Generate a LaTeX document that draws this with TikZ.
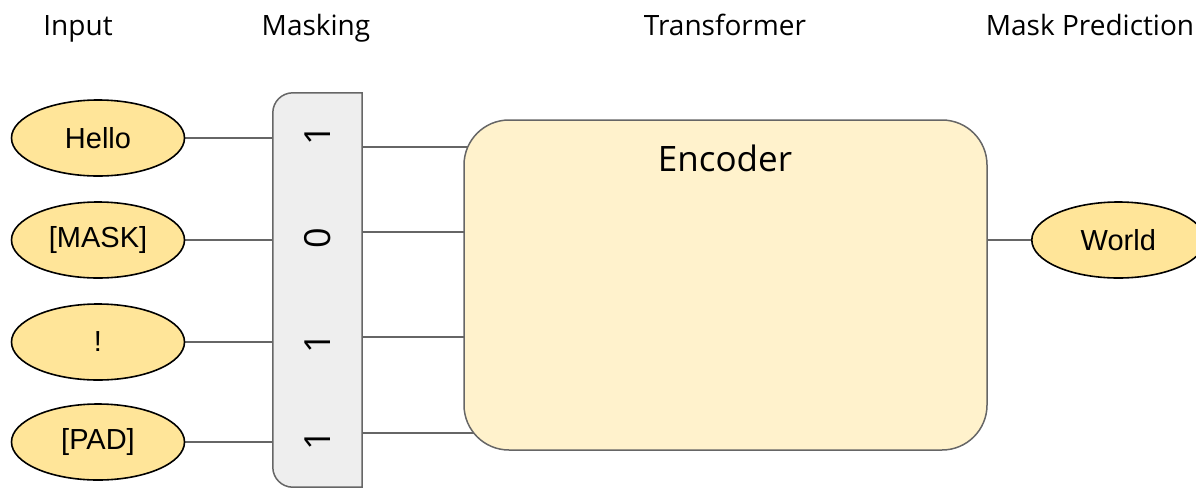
\documentclass[tikz,border=0pt]{standalone}
\usepackage{fontspec}
\setmainfont{Liberation Sans}
\newfontfamily\headfont{Open Sans}
\usepackage{tikz}
\usetikzlibrary{backgrounds, positioning, shapes.geometric}
\definecolor{tokfill}{HTML}{FFE599}
\definecolor{encfill}{HTML}{FFF2CC}
\definecolor{barfill}{HTML}{EEEEEE}
\definecolor{edgegray}{HTML}{666666}

\begin{document}
\begin{tikzpicture}[x=1pt, y=-1pt,
            token/.style={ellipse, draw=black, line width=1.6pt, fill=tokfill, minimum width=173pt, minimum height=76pt, inner sep=0pt, font=\fontsize{29}{33}\selectfont},
            heading/.style={anchor=base, font=\headfont\fontsize{28}{32}\selectfont},
            bit/.style={rotate=90, font=\headfont\fontsize{36}{40}\selectfont},
            wire/.style={draw=edgegray, line width=1.5pt},
            maskbar/.style={draw=edgegray, fill=barfill, line width=1.5pt},
            encbox/.style={rectangle, rounded corners=45pt, draw=edgegray, fill=encfill, line width=1.5pt, minimum width=523pt, minimum height=330pt},
            ]
            \useasboundingbox (0,0) rectangle (1196,488);
            %Headings
            \node[heading] (hinput)   at (78,35)   {Input};
            \node[heading] (hmasking) at (316,35)  {Masking};
            \node[heading] (htrans)   at (725,35)  {Transformer};
            \node[heading] (hpred)    at (1090,35) {Mask Prediction};

            %Nodes
            \node[token] (hello) at (98,138) {Hello};
            \node[token] (masked) at (98,240) {[MASK]};
            \node[token] (bang) at (98,342) {!};
            \node[token] (pad) at (98,442) {[PAD]};

            \node[inner sep=0pt, minimum width=89pt, minimum height=394pt] (mask) at (317.5,290) {};
            \draw[maskbar] (mask.south east) -- (mask.north east)
              [rounded corners=20pt] -- (mask.north west) -- (mask.south west)
              [sharp corners] -- (mask.south east) -- cycle;
            \node[bit] (b1) at (318,135) {1};
            \node[bit] (b2) at (318,238) {0};
            \node[bit] (b3) at (318,343) {1};
            \node[bit] (b4) at (318,440) {1};

            \node[encbox] (enc) at (725.5,285) {};
            \node[font=\headfont\fontsize{35}{40}\selectfont] (enclabel) at (725,158) {Encoder};

            \node[token, anchor=west] (world) at (1031,240) {World};

            %Lines
            \begin{scope}[on background layer]
            \foreach \tok in {hello, masked, bang, pad}
              \draw[wire] (\tok.east) -- (\tok.east -| mask.west);
            \foreach \y in {147, 232, 337, 433}
              \draw[wire] (mask.east |- 0,\y) -- (enc.center |- 0,\y);
            \end{scope}
            \draw[wire] (enc.east |- world) -- (world.west);
          \end{tikzpicture}
\end{document}
